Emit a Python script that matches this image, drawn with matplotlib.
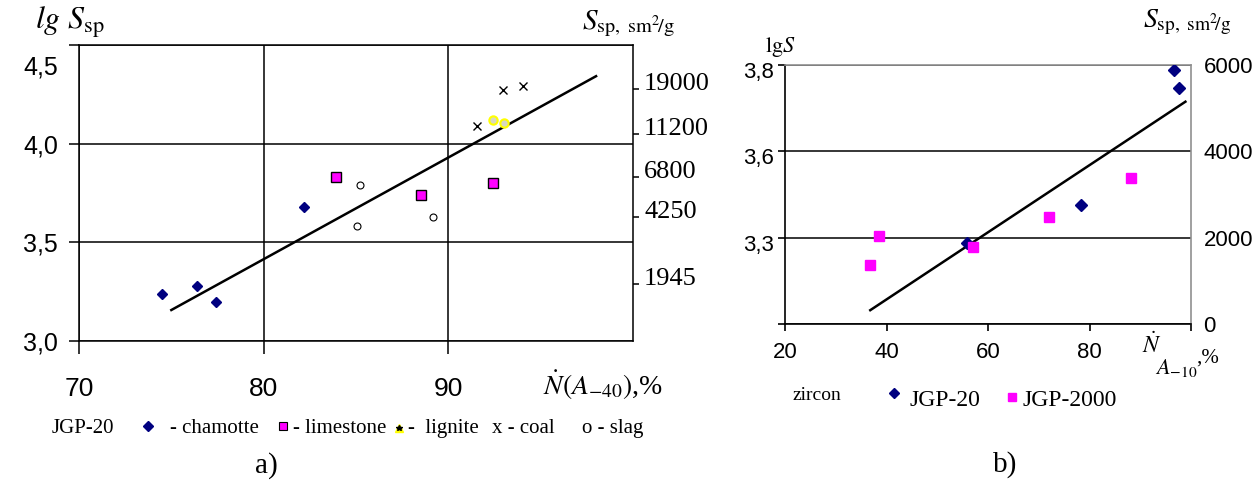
import matplotlib
matplotlib.use("Agg")
import matplotlib.pyplot as plt
import matplotlib.transforms as mtransforms
import numpy as np

plt.rcParams['font.family'] = ['Liberation Serif', 'DejaVu Sans']
plt.rcParams['mathtext.fontset'] = 'stix'

# ---- panel a) data : lg Ssp vs N(A-40), %
chamotte_x = [74.5, 76.4, 77.4, 82.2]
chamotte_lg = [3.24, 3.28, 3.20, 3.68]
limestone_x = [83.9, 88.5, 92.4]
limestone_lg = [3.83, 3.74, 3.80]
lignite_x = [92.4, 93.0]
lignite_lg = [4.12, 4.105]
coal_x = [91.55, 92.97, 94.03]
coal_lg = [4.09, 4.27, 4.29]
slag_x = [85.2, 85.03, 89.15]
slag_lg = [3.79, 3.585, 3.63]
trend_a_x = [75.0, 98.0]
trend_a_lg = [3.157, 4.342]

a_xticks = [70, 80, 90]
a_yticks = [3.0, 3.5, 4.0, 4.5]
a_ylabels = ["3,0", "3,5", "4,0", "4,5"]
a_right_vals = [1945, 4250, 6800, 11200, 19000]

# ---- panel b) data : zircon, S vs N(A-10), %
jgp20_x = [55.8, 78.4, 96.6, 97.6]
jgp20_s = [1870, 2760, 5885, 5460]
jgp2000_x = [36.8, 38.5, 57.0, 72.0, 88.2]
jgp2000_s = [1370, 2045, 1790, 2485, 3375]
trend_b_x = [36.8, 98.9]
trend_b_s = [320, 5150]

b_xticks = [20, 40, 60, 80, 100]
b_xlabels = ["20", "40", "60", "80", ""]
b_sticks = [0, 2000, 4000, 6000]
b_lglabels = ["", "3,3", "3,6", "3,8"]

W, H = 1259, 486
fig = plt.figure(figsize=(W / 100, H / 100), dpi=100)


def fx(x):
    return x / W


def fy(y):
    return 1 - y / H


def px_shift(dx, dy):
    return mtransforms.ScaledTranslation(dx / 100, -dy / 100, fig.dpi_scale_trans)


# ================= panel a =================
ax = fig.add_axes([fx(79), fy(341), (633 - 79) / W, (341 - 45) / H])
ax.set_xlim(70, 100)
ax.set_ylim(3.0, 4.5)
for s in ax.spines.values():
    s.set_linewidth(1.1)
    s.set_color('black')
ax.set_xticks(a_xticks)
ax.set_xticklabels([str(v) for v in a_xticks], family='Liberation Sans', fontsize=19)
ax.set_yticks(a_yticks)
ax.set_yticklabels(a_ylabels, family='Liberation Sans', fontsize=18)
ax.tick_params(axis='x', length=9, width=1.1, pad=17)
ax.tick_params(axis='y', length=7, width=1.1, pad=8)
ax.grid(True, color='black', lw=1.1)
# the 4,5 label sits lower in the original
ax.get_yticklabels()[-1].set_transform(ax.get_yticklabels()[-1].get_transform() + px_shift(0, 20))

ax.plot(trend_a_x, trend_a_lg, color='black', lw=1.8, zorder=3)
ax.plot(chamotte_x, chamotte_lg, ls='none', marker='D', ms=5.5, color='#000080', zorder=4)
ax.plot(limestone_x, limestone_lg, ls='none', marker='s', ms=7, mfc='#FF00FF', mec='black', mew=1.0, zorder=4)
ax.plot(lignite_x, lignite_lg, ls='none', marker='o', ms=6, mfc='#d8d8c0', mec='#FFFF00', mew=1.5, zorder=4)
ax.plot(coal_x, coal_lg, ls='none', marker='x', ms=6, mew=1.0, color='black', zorder=4)
ax.plot(slag_x, slag_lg, ls='none', marker='o', ms=5, mfc='none', mec='black', mew=0.8, zorder=4)

ax2 = ax.twinx()
ax2.set_ylim(ax.get_ylim())
ax2.set_yticks(np.log10(a_right_vals))
ax2.set_yticklabels([str(v) for v in a_right_vals], fontsize=19)
ax2.tick_params(axis='y', length=4, width=1.1, pad=4)
for s in ax2.spines.values():
    s.set_visible(False)
for lbl in ax2.get_yticklabels():
    lbl.set_transform(lbl.get_transform() + px_shift(0, -7))

fig.text(fx(35), fy(22), r"$lg\ S_{\mathrm{sp}}$", fontsize=23, ha='left', va='center')
fig.text(fx(582), fy(24), r"$S_{\mathrm{sp},\ \mathrm{sm}^{2}\!/\mathrm{g}}$", fontsize=21, ha='left', va='center')
fig.text(fx(543), fy(385), r"$\dot{N}(A_{-40})$,%", fontsize=20, ha='left', va='center')

# legend row a
ly = 428
fig.text(fx(52), fy(ly), "JGP-20", fontsize=15, ha='left', va='center')
ax.plot([fx(148)], [fy(ly - 2)], marker='D', ms=5, color='#000080', transform=fig.transFigure, clip_on=False)
fig.text(fx(170), fy(ly), "- chamotte", fontsize=15, ha='left', va='center')
ax.plot([fx(283)], [fy(ly - 2)], marker='s', ms=6, mfc='#FF00FF', mec='black', mew=0.8, transform=fig.transFigure, clip_on=False)
fig.text(fx(293), fy(ly), "- limestone", fontsize=15, ha='left', va='center')
ax.plot([fx(399)], [fy(ly)], marker='^', ms=6, color='#FFFF00', transform=fig.transFigure, clip_on=False)
ax.plot([fx(399)], [fy(ly)], marker='*', ms=4, color='black', transform=fig.transFigure, clip_on=False)
fig.text(fx(408), fy(ly), "-  lignite", fontsize=15, ha='left', va='center')
fig.text(fx(492), fy(ly), "x - coal", fontsize=15, ha='left', va='center')
fig.text(fx(582), fy(ly), "o - slag", fontsize=15, ha='left', va='center')
fig.text(fx(266), fy(466), "a)", fontsize=21, ha='center', va='center')

# ================= panel b =================
bx = fig.add_axes([fx(785), fy(324), (1191 - 785) / W, (324 - 65) / H])
bx.set_xlim(20, 100)
bx.set_ylim(0, 6000)
for k in ['left', 'bottom']:
    bx.spines[k].set_color('black')
    bx.spines[k].set_linewidth(1.2)
for k in ['top', 'right']:
    bx.spines[k].set_color('#909090')
    bx.spines[k].set_linewidth(1.2)
bx.set_xticks(b_xticks)
bx.set_xticklabels(b_xlabels, family='Liberation Sans', fontsize=16)
bx.set_yticks(b_sticks)
bx.set_yticklabels(b_lglabels, family='Liberation Sans', fontsize=16)
bx.tick_params(axis='x', length=5, width=1.2, pad=8)
bx.tick_params(axis='y', length=5, width=1.2, pad=3)
bx.yaxis.grid(True, color='black', lw=1.1)
for lbl in bx.get_yticklabels():
    lbl.set_transform(lbl.get_transform() + px_shift(0, 5))

bx.plot(trend_b_x, trend_b_s, color='black', lw=1.8, zorder=3)
bx.plot(jgp20_x, jgp20_s, ls='none', marker='D', ms=6, color='#000080', zorder=4)
bx.plot(jgp2000_x, jgp2000_s, ls='none', marker='s', ms=7, color='#FF00FF', zorder=4)

bx2 = bx.twinx()
bx2.set_ylim(bx.get_ylim())
bx2.set_yticks(b_sticks)
bx2.set_yticklabels([str(v) for v in b_sticks], family='Liberation Sans', fontsize=16)
bx2.tick_params(axis='y', length=0, pad=9)
for s in bx2.spines.values():
    s.set_visible(False)

fig.text(fx(765), fy(47), r"$\mathrm{lg}S$", fontsize=16, ha='left', va='center')
fig.text(fx(1143), fy(22), r"$S_{\mathrm{sp},\ \mathrm{sm}^{2}\!/\mathrm{g}}$", fontsize=20, ha='left', va='center')
fig.text(fx(1142), fy(345), r"$\dot{N}$", fontsize=17, ha='left', va='center')
fig.text(fx(1155), fy(368), r"$A_{-10}$", fontsize=16, ha='left', va='center')
fig.text(fx(1196), fy(358), ",%", fontsize=15, ha='left', va='center')

# legend row b
fig.text(fx(793), fy(396), "zircon", fontsize=14, ha='left', va='center')
bx.plot([fx(894)], [fy(393)], marker='D', ms=5.5, color='#000080', transform=fig.transFigure, clip_on=False)
fig.text(fx(909), fy(401), "JGP-20", fontsize=17, ha='left', va='center')
bx.plot([fx(1012)], [fy(397)], marker='s', ms=6, color='#FF00FF', transform=fig.transFigure, clip_on=False)
fig.text(fx(1023), fy(401), "JGP-2000", fontsize=17, ha='left', va='center')
fig.text(fx(1005), fy(465), "b)", fontsize=21, ha='center', va='center')

fig.savefig("out.png", dpi=100)
